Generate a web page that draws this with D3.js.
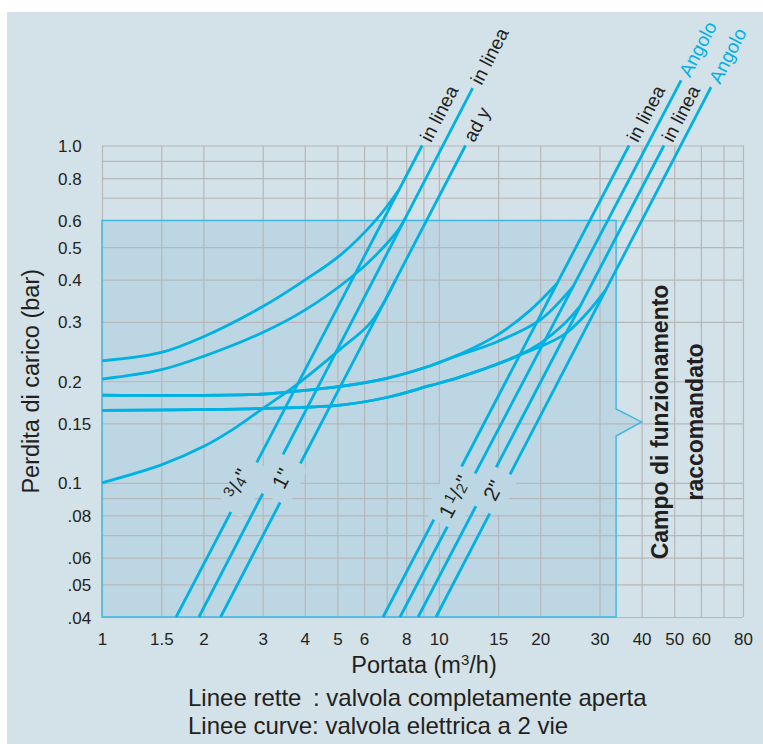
<!DOCTYPE html>
<html>
<head>
    <title>Perdita di carico</title>
    <meta charset="utf-8" />
    <script type="text/javascript" src="https://cdn.jsdelivr.net/npm/d3@7/dist/d3.min.js"></script>
    <style>
        body { margin: 0; background: #fff; }
        text { font-family: "Liberation Sans", Arial, Helvetica, sans-serif; fill: #231f20; }
    </style>
</head>
<body>
<script type="text/javascript">

    //Flow ticks (m3/h)
    var xTicks = [1, 1.5, 2, 3, 4, 5, 6, 8, 10, 15, 20, 30, 40, 50, 60, 80];
    var xGrid = [1, 1.5, 2, 3, 4, 5, 6, 7, 8, 9, 10, 15, 20, 30, 40, 50, 60, 70, 80];

    //Pressure drop ticks (bar)
    var yTicks = [1.0, 0.8, 0.6, 0.5, 0.4, 0.3, 0.2, 0.15, 0.1, 0.08, 0.06, 0.05, 0.04];
    var yTickLabels = ["1.0", "0.8", "0.6", "0.5", "0.4", "0.3", "0.2", "0.15", "0.1", ".08", ".06", ".05", ".04"];
    var yGrid = [1, 0.9, 0.8, 0.7, 0.6, 0.5, 0.4, 0.3, 0.2, 0.15, 0.1, 0.09, 0.08, 0.07, 0.06, 0.05, 0.04];

    //Straight lines (valve fully open): [flow, drop] at each end
    var lineStart = [[1.66, 0.04], [1.94, 0.04], [2.25, 0.04], [6.83, 0.04], [7.67, 0.04], [8.68, 0.04], [9.81, 0.04]];
    var lineEnd = [[8.92, 1.0], [12.6, 1.48], [12.0, 1.0], [36.7, 1.0], [52.4, 1.56], [46.6, 1.0], [64.3, 1.49]];
    var lineTags = ["in linea", "in linea", "ad y", "in linea", "Angolo", "in linea", "Angolo"];
    var tagBlue = [false, false, false, false, true, false, true];

    //Curves (2-way electric valve): [flow, drop]
    var curveA = [[1, 0.230], [1.49, 0.243], [2, 0.271], [3, 0.333], [4, 0.399], [5.1, 0.473], [6.5, 0.601], [7.61, 0.738]];
    var curveB = [[1, 0.203], [1.49, 0.216], [2, 0.237], [3, 0.279], [4, 0.325], [5.45, 0.404], [6.5, 0.473], [7.58, 0.562], [7.96, 0.61]];
    var curveC = [[1, 0.100], [1.5, 0.113], [2, 0.128], [2.5, 0.146], [3, 0.166], [3.7, 0.192], [5.1, 0.249], [6.3, 0.300], [7.44, 0.399]];
    var curveD1 = [[1, 0.182], [2.95, 0.183], [4, 0.188], [5.1, 0.193], [7, 0.204], [9.4, 0.222], [11.8, 0.243], [14.9, 0.274], [18.7, 0.325], [22.4, 0.389]];
    var curveD2 = [[1, 0.182], [2.95, 0.183], [4, 0.188], [5.1, 0.193], [7, 0.204], [9.4, 0.222], [10.8, 0.234], [14.9, 0.262], [20, 0.304], [25.05, 0.382]];
    var curveE1 = [[1, 0.164], [2.95, 0.166], [5.1, 0.170], [7, 0.179], [9.4, 0.194], [11.6, 0.206], [17, 0.237], [20, 0.259], [23.4, 0.294], [26.2, 0.333]];
    var curveE2 = [[1, 0.164], [2.95, 0.166], [5.1, 0.170], [7, 0.179], [9.4, 0.194], [11.6, 0.206], [17, 0.237], [23.4, 0.274], [27.5, 0.318], [31.3, 0.373]];
    var curves = [curveA, curveB, curveC, curveD1, curveD2, curveE1, curveE2];

    //Pipe size labels and the lines they sit on
    var sizeLabels = ['3/4"', '1"', '1 1/2"', '2"'];
    var sizeLines = [[0], [1, 2], [3, 4], [5, 6]];
    var sizeAtDrop = [0.097, 0.103, 0.091, 0.095];

    //Recommended working zone
    var zoneQ = [1, 33.6, 40];
    var zoneP = [0.04, 0.6];
    var notchP = [0.1655, 0.1515, 0.1376];

    var w = 763;
    var h = 744;
    var blue = "#00b1e4";

    var x = d3.scaleLog().domain([1, 80]).range([102, 743]);
    var y = d3.scaleLog().domain([0.04, 1]).range([617, 145.5]);

    var svg = d3.select("body")
        .append("svg")
        .attr("width", w)
        .attr("height", h);

    //panel
    svg.append("rect")
        .attr("x", 7).attr("y", 12)
        .attr("width", w - 7).attr("height", h - 12)
        .attr("fill", "#d3e1e8");

    var zonePts = [[zoneQ[0], zoneP[1]], [zoneQ[1], zoneP[1]], [zoneQ[1], notchP[0]], [zoneQ[2], notchP[1]],
                   [zoneQ[1], notchP[2]], [zoneQ[1], zoneP[0]], [zoneQ[0], zoneP[0]]];
    var zonePath = d3.line()
        .x(function (d) { return x(d[0]); })
        .y(function (d) { return y(d[1]); })(zonePts) + "Z";

    svg.append("path").attr("d", zonePath).attr("fill", "#bcd7e3");

    //grid
    svg.append("g")
        .attr("transform", "translate(0," + y(0.04) + ")")
        .call(d3.axisBottom(x).tickValues(xGrid).tickSize(-(y(0.04) - y(1))).tickFormat(""))
        .call(function (g) { g.select(".domain").remove(); })
        .selectAll("line").attr("stroke", "#b7b7b7").attr("stroke-width", 1.2);

    svg.append("g")
        .attr("transform", "translate(" + x(1) + ",0)")
        .call(d3.axisLeft(y).tickValues(yGrid).tickSize(-(x(80) - x(1))).tickFormat(""))
        .call(function (g) { g.select(".domain").remove(); })
        .selectAll("line").attr("stroke", "#b7b7b7").attr("stroke-width", 1.2);

    svg.append("path").attr("d", zonePath)
        .attr("fill", "none").attr("stroke", "#3cb8e2").attr("stroke-width", 1.4);

    //straight lines
    svg.append("g").selectAll("line")
        .data(lineStart)
        .enter()
        .append("line")
        .attr("x1", function (d) { return x(d[0]); })
        .attr("y1", function (d) { return y(d[1]); })
        .attr("x2", function (d, i) { return x(lineEnd[i][0]); })
        .attr("y2", function (d, i) { return y(lineEnd[i][1]); })
        .attr("stroke", blue)
        .attr("stroke-width", 2.8);

    //curves
    var curveLine = d3.line()
        .x(function (d) { return x(d[0]); })
        .y(function (d) { return y(d[1]); })
        .curve(d3.curveCatmullRom.alpha(0.5));

    svg.append("g").selectAll("path")
        .data(curves)
        .enter()
        .append("path")
        .attr("d", curveLine)
        .attr("fill", "none")
        .attr("stroke", blue)
        .attr("stroke-width", 2.8);

    function angleOf(i) {
        var dx = x(lineEnd[i][0]) - x(lineStart[i][0]);
        var dy = y(lineEnd[i][1]) - y(lineStart[i][1]);
        return Math.atan2(dy, dx);
    }

    function onLine(i, p) {
        var a = lineStart[i], b = lineEnd[i];
        var t = (Math.log(p) - Math.log(a[1])) / (Math.log(b[1]) - Math.log(a[1]));
        var q = Math.exp(Math.log(a[0]) + t * (Math.log(b[0]) - Math.log(a[0])));
        return [x(q), y(p)];
    }

    //tags above the lines
    lineTags.forEach(function (tag, i) {
        var a = angleOf(i);
        var px = x(lineEnd[i][0]) + Math.cos(a) * 6;
        var py = y(lineEnd[i][1]) + Math.sin(a) * 6;
        svg.append("text")
            .attr("transform", "translate(" + px + "," + py + ") rotate(" + (a * 180 / Math.PI) + ")")
            .attr("dy", "0.36em")
            .attr("font-size", 19)
            .style("fill", tagBlue[i] ? blue : "#231f20")
            .text(tag);
    });

    //pipe size labels, knocked out of the lines
    var knockSize = [[56, 30], [44, 38], [60, 38], [44, 36]];

    sizeLabels.forEach(function (label, k) {
        var pts = sizeLines[k].map(function (i) { return onLine(i, sizeAtDrop[k]); });
        var cx = d3.mean(pts, function (d) { return d[0]; });
        var cy = d3.mean(pts, function (d) { return d[1]; });
        var deg = angleOf(sizeLines[k][0]) * 180 / Math.PI;
        var g = svg.append("g")
            .attr("transform", "translate(" + cx + "," + cy + ") rotate(" + deg + ")");
        g.append("rect")
            .attr("x", -knockSize[k][0] / 2).attr("y", -knockSize[k][1] / 2)
            .attr("width", knockSize[k][0]).attr("height", knockSize[k][1])
            .attr("rx", 8)
            .attr("fill", "#bcd7e3");
        var t = g.append("text")
            .attr("text-anchor", "middle")
            .attr("dy", "0.36em")
            .attr("font-size", 21);
        var m = label.match(/^(?:(\d+) )?(\d+)\/(\d+)"$/);
        if (!m) {
            t.text(label);
        } else {
            if (m[1]) t.append("tspan").attr("dx", 0).text(m[1]);
            t.append("tspan").attr("font-size", 15).attr("dx", m[1] ? 3 : 0).attr("dy", -6).text(m[2]);
            t.append("tspan").attr("dy", 6).text("/");
            t.append("tspan").attr("font-size", 15).text(m[3]);
            t.append("tspan").text('"');
        }
    });

    //x tick labels
    svg.append("g")
        .attr("transform", "translate(0," + y(0.04) + ")")
        .call(d3.axisBottom(x).tickValues(xTicks).tickSize(0).tickPadding(16).tickFormat(d3.format("~g")))
        .call(function (g) { g.select(".domain").remove(); })
        .selectAll("text")
        .attr("font-size", 17)
        .style("font-family", "'Liberation Sans', Arial, sans-serif")
        .style("fill", "#231f20");

    //y tick labels, lined up on the decimal point
    var yLab = svg.append("g").selectAll("g")
        .data(yTicks)
        .enter()
        .append("g")
        .attr("transform", function (d) { return "translate(67.5," + (y(d) + 6.5) + ")"; });

    yLab.append("text")
        .attr("text-anchor", "end")
        .attr("font-size", 17)
        .text(function (d, i) { return yTickLabels[i].split(".")[0]; });

    yLab.append("text")
        .attr("font-size", 17)
        .text(function (d, i) { return "." + yTickLabels[i].split(".")[1]; });

    //axis titles
    svg.append("text")
        .attr("transform", "translate(39," + y(0.2) + ") rotate(-90)")
        .attr("text-anchor", "middle")
        .attr("font-size", 23.5)
        .text("Perdita di carico (bar)");

    var xt = svg.append("text")
        .attr("x", 424).attr("y", 673)
        .attr("text-anchor", "middle")
        .attr("font-size", 23.5);
    xt.append("tspan").text("Portata (m");
    xt.append("tspan").attr("font-size", 15).attr("dy", -8).text("3");
    xt.append("tspan").attr("dy", 8).text("/h)");

    //zone caption
    svg.append("text")
        .attr("transform", "translate(668," + y(notchP[1]) + ") rotate(-90)")
        .attr("text-anchor", "middle")
        .attr("font-size", 23)
        .attr("font-weight", "bold")
        .text("Campo di funzionamento");

    svg.append("text")
        .attr("transform", "translate(703," + y(notchP[1]) + ") rotate(-90)")
        .attr("text-anchor", "middle")
        .attr("font-size", 23)
        .attr("font-weight", "bold")
        .text("raccomandato");

    //notes
    svg.append("text")
        .attr("x", 188).attr("y", 706)
        .attr("font-size", 24)
        .text("Linee rette");

    svg.append("text")
        .attr("x", 313).attr("y", 706)
        .attr("font-size", 24)
        .text(": valvola completamente aperta");

    svg.append("text")
        .attr("x", 188).attr("y", 734)
        .attr("font-size", 24)
        .text("Linee curve: valvola elettrica a 2 vie");

</script>
</body>
</html>
